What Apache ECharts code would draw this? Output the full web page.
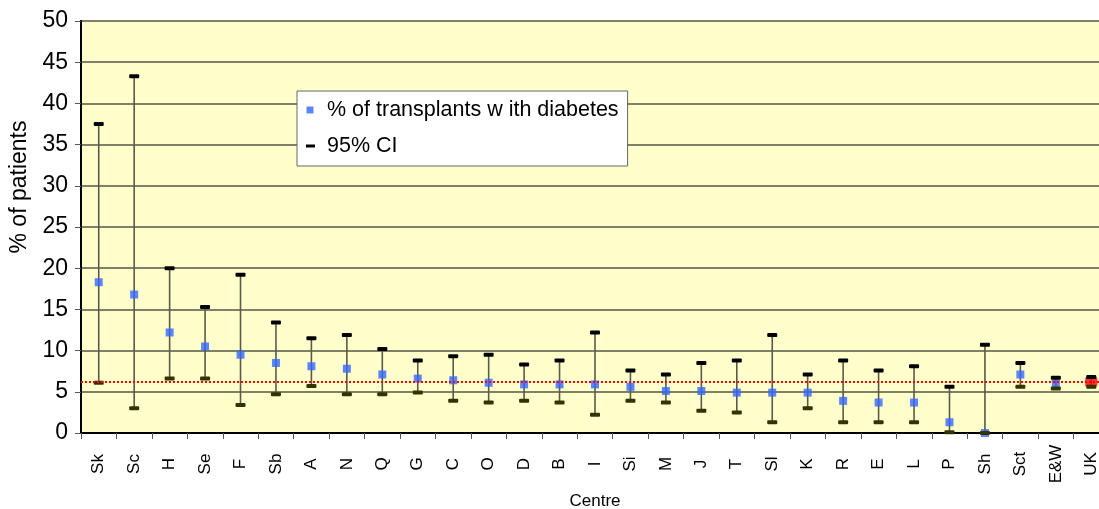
<!DOCTYPE html>
<html>
<head>
<meta charset="utf-8">
<script src="https://cdn.jsdelivr.net/npm/echarts@6/dist/echarts.min.js"></script>
<style>
  html, body { margin: 0; padding: 0; background: #ffffff; }
  #chart { width: 1099px; height: 509px; }
</style>
</head>
<body>
<div id="chart"></div>
<script>
// Centres, ordered by share of transplants with diabetes
const categories = ['Sk','Sc','H','Se','F','Sb','A','N','Q','G','C','O','D','B','I','Si','M','J','T','Sl','K','R','E','L','P','Sh','Sct','E&W','UK'];
// % of transplants with diabetes
const pctDiabetes = [18.3,16.8,12.2,10.5,9.5,8.5,8.1,7.8,7.1,6.6,6.4,6.1,5.9,5.9,5.9,5.6,5.1,5.1,4.9,4.9,4.9,3.9,3.7,3.7,1.3,0,7.1,6.0,6.2];
// 95% confidence interval bounds
const ciLower = [6.1,3.0,6.6,6.6,3.4,4.7,5.7,4.7,4.7,4.9,3.9,3.7,3.9,3.7,2.2,3.9,3.7,2.7,2.5,1.3,3.0,1.3,1.3,1.3,0.1,0,5.6,5.4,5.6];
const ciUpper = [37.5,43.3,20.0,15.3,19.2,13.4,11.5,11.9,10.2,8.8,9.3,9.5,8.3,8.8,12.2,7.6,7.1,8.5,8.8,11.9,7.1,8.8,7.6,8.1,5.6,10.7,8.5,6.7,6.8];
// y axis ticks
const yTicks = { min: 0, max: 50, step: 5 };

const FONT = "'Liberation Sans', Arial, sans-serif";
const ukIndex = categories.indexOf('UK');
const ukValue = pctDiabetes[ukIndex];

const ciData = categories.map((c, i) => [i, ciLower[i], ciUpper[i]]);
const pointData = pctDiabetes.map((v, i) => {
  if (i === ukIndex) {
    return { value: [i, v], symbolSize: [12, 9], itemStyle: { color: '#ff0000' } };
  }
  return [i, v];
});

const chart = echarts.init(document.getElementById('chart'), null, { renderer: 'canvas' });

chart.setOption({
  animation: false,
  backgroundColor: '#ffffff',
  textStyle: { fontFamily: FONT },
  // plot area runs a little past the right edge of the page
  grid: {
    left: 81, top: 21, width: 1028, bottom: 76,
    outerBoundsMode: 'none',
    containLabel: false,
    show: true, backgroundColor: '#ffffcc', borderColor: '#000000', borderWidth: 2
  },
  legend: {
    orient: 'vertical',
    left: 297, top: 91,
    padding: [8, 9, 9, 9],
    itemGap: 14,
    itemWidth: 16, itemHeight: 8,
    backgroundColor: '#ffffff',
    borderColor: '#666666', borderWidth: 1,
    textStyle: { fontFamily: FONT, fontSize: 21.5, color: '#000000' },
    data: [
      { name: '% of transplants w ith diabetes', icon: 'path://M0,0M16,8M0.5,0.5h7v7h-7z', itemStyle: { color: '#3366ff' } },
      { name: '95% CI', icon: 'path://M0,0M16,8M0,2.5h9v3h-9z', itemStyle: { color: '#000000' } }
    ]
  },
  xAxis: {
    type: 'category',
    data: categories,
    boundaryGap: true,
    name: 'Centre',
    nameLocation: 'middle',
    nameGap: 60,
    nameTextStyle: { fontFamily: FONT, fontSize: 17, color: '#000000' },
    axisLine: { show: true, lineStyle: { color: '#000000', width: 2 } },
    axisTick: { show: true, inside: false, length: 6, lineStyle: { color: '#555555', width: 1 } },
    axisLabel: {
      rotate: 90, align: 'center', verticalAlign: 'middle', margin: 31,
      fontFamily: FONT, fontSize: 17, color: '#000000', interval: 0
    },
    splitLine: { show: false }
  },
  yAxis: {
    type: 'value',
    min: yTicks.min, max: yTicks.max, interval: yTicks.step,
    name: '% of patients',
    nameLocation: 'middle',
    nameGap: 48,
    nameTextStyle: { fontFamily: FONT, fontSize: 23, color: '#000000', padding: [0, 0, 0, 80] },
    axisLine: { show: true, lineStyle: { color: '#000000', width: 2 } },
    axisTick: { show: true, inside: false, length: 6, lineStyle: { color: '#555555', width: 1 } },
    axisLabel: { fontFamily: FONT, fontSize: 23, color: '#000000', margin: 13 },
    splitLine: { show: true, lineStyle: { color: '#808066', width: 2 } }
  },
  series: [
    {
      // vertical whisker of each interval
      name: 'whisker',
      type: 'custom',
      z: 2,
      silent: true,
      data: ciData,
      encode: { x: 0, y: [1, 2] },
      renderItem: function (params, api) {
        const lo = api.coord([api.value(0), api.value(1)]);
        const hi = api.coord([api.value(0), api.value(2)]);
        return {
          type: 'line',
          shape: { x1: lo[0], y1: lo[1], x2: hi[0], y2: hi[1] },
          style: { stroke: '#5a5a4a', lineWidth: 1.6 }
        };
      }
    },
    {
      name: '% of transplants w ith diabetes',
      type: 'scatter',
      z: 3,
      symbol: 'rect',
      symbolSize: 8,
      itemStyle: { color: '#3366ff' },
      data: pointData,
      markLine: {
        silent: true,
        symbol: 'none',
        label: { show: false },
        lineStyle: { color: '#ff0000', type: [2, 2], width: 2 },
        data: [{ yAxis: ukValue }]
      }
    },
    {
      // end caps of each interval
      name: '95% CI',
      type: 'custom',
      z: 4,
      silent: true,
      itemStyle: { color: '#000000' },
      data: ciData,
      encode: { x: 0, y: [1, 2] },
      renderItem: function (params, api) {
        const lo = api.coord([api.value(0), api.value(1)]);
        const hi = api.coord([api.value(0), api.value(2)]);
        const w = 10, h = 4;
        return {
          type: 'group',
          children: [
            { type: 'rect', shape: { x: hi[0] - w / 2, y: hi[1] - h / 2, width: w, height: h, r: 1 }, style: { fill: '#000000' } },
            { type: 'rect', shape: { x: lo[0] - w / 2, y: lo[1] - h / 2, width: w, height: h, r: 1 }, style: { fill: '#333300' } }
          ]
        };
      }
    }
  ]
});
</script>
</body>
</html>
